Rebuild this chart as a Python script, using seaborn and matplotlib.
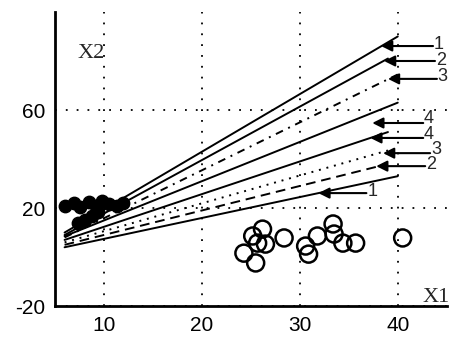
import matplotlib
matplotlib.use("Agg")
import matplotlib.pyplot as plt
import seaborn as sns

# class 1: filled circles (upper left cluster)
filled_x = [6.0, 7.0, 7.6, 8.5, 9.2, 9.8, 10.5, 11.3, 12.0, 9.4, 8.8, 8.1, 7.4]
filled_y = [21.0, 22.0, 20.5, 22.5, 21.0, 23.0, 21.5, 21.0, 22.0, 18.5, 16.8, 15.2, 13.8]

# class 2: open circles (lower right cluster)
open_x = [25.2, 26.2, 25.7, 24.3, 25.5, 26.5, 28.4, 30.6, 30.9, 31.8, 33.4, 33.5, 34.4, 35.7, 40.5]
open_y = [8.6, 11.4, 5.7, 1.6, -2.4, 5.3, 7.8, 4.5, 1.2, 8.6, 13.5, 9.4, 5.7, 5.7, 7.8]

# separating lines: start / end points
line_x0 = [6.0, 6.0, 6.0, 6.0, 6.0, 6.0, 6.0, 6.0]
line_y0 = [10.0, 9.0, 8.0, 8.5, 7.0, 6.0, 5.0, 4.0]
line_x1 = [40.0, 39.0, 40.0, 40.0, 39.0, 39.0, 39.0, 40.0]
line_y1 = [90.0, 81.0, 74.5, 63.0, 51.0, 43.5, 38.0, 33.0]
line_styles = ["-", "-", (0, (4, 3, 1, 3)), "-", "-", (0, (1, 3)), (0, (5, 3)), "-"]

# arrow labels
arrow_labels = ["1", "2", "3", "4", "4", "3", "2", "1"]
arrow_tip_x = [38.3, 38.6, 39.0, 37.4, 37.2, 38.5, 37.8, 31.9]
arrow_tip_y = [86.1, 80.0, 72.7, 54.7, 48.6, 42.4, 37.1, 26.1]
arrow_text_x = [44.2, 44.4, 44.6, 43.2, 43.2, 43.9, 43.4, 37.4]
arrow_text_y = [86.6, 80.3, 73.5, 56.5, 50.0, 44.0, 37.8, 26.6]

sns.set_style("white")
plt.rcParams["font.family"] = ["Liberation Sans", "DejaVu Sans"]
plt.rcParams["axes.unicode_minus"] = False

fig = plt.figure(figsize=(4.49, 3.42), dpi=100)
ax = fig.add_axes([0.122, 0.105, 0.873, 0.86])

for x0, y0, x1, y1, ls in zip(line_x0, line_y0, line_x1, line_y1, line_styles):
    sns.lineplot(x=[x0, x1], y=[y0, y1], ax=ax, color="black", linewidth=1.4,
                 linestyle=ls, sort=False)

sns.scatterplot(x=open_x, y=open_y, ax=ax, marker="o", s=150,
                facecolor="none", edgecolor="black", linewidth=1.8, zorder=3)
sns.scatterplot(x=filled_x, y=filled_y, ax=ax, marker="o", s=80,
                color="black", edgecolor="black", linewidth=1, zorder=3)

for lab, tx, ty, lx, ly in zip(arrow_labels, arrow_tip_x, arrow_tip_y,
                               arrow_text_x, arrow_text_y):
    ax.annotate("", xy=(tx, ty), xytext=(lx - 0.6, ty),
                arrowprops=dict(arrowstyle="-|>", color="black", lw=1.5,
                                mutation_scale=16, shrinkA=0, shrinkB=0))
    ax.text(lx, ly, lab, ha="center", va="center", fontsize=13)

ax.set_xlim(5, 45)
ax.set_ylim(-20, 100)
ax.set_xticks([10, 20, 30, 40])
ax.set_yticks([-20, 20, 60])
ax.tick_params(direction="in", length=4, width=1.2, labelsize=15, pad=7,
               colors="black")
ax.grid(True, color="black", linestyle=(0, (1, 5)), linewidth=1.3)
for s in ["top", "right"]:
    ax.spines[s].set_visible(False)
for s in ["left", "bottom"]:
    ax.spines[s].set_color("black")
    ax.spines[s].set_linewidth(2)

# axis names drawn inside the axes, typewriter-like serif
ax.text(0.059, 0.86, "X2", transform=ax.transAxes, fontsize=16,
        family="Liberation Serif", ha="left", va="center")
ax.text(0.972, 0.03, "X1", transform=ax.transAxes, fontsize=16,
        family="Liberation Serif", ha="center", va="center")

fig.savefig("out.png", dpi=100)
